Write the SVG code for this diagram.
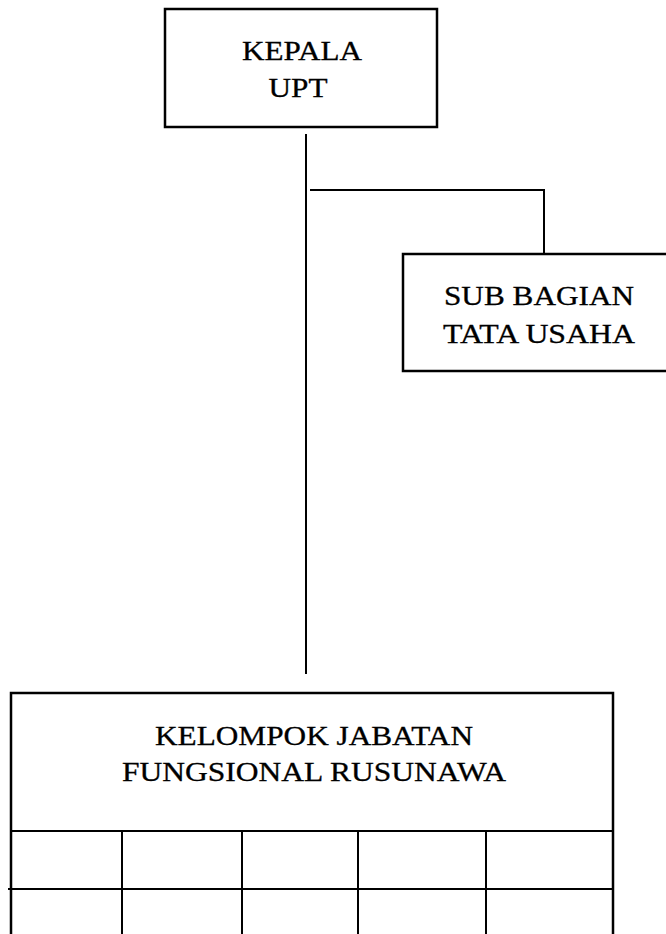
<svg xmlns="http://www.w3.org/2000/svg" width="666" height="934" viewBox="0 0 666 934">
<style>
.box{fill:#fff;stroke:#000;stroke-width:2.5}
.ln{fill:none;stroke:#000;stroke-width:2}
.t{font-family:"Liberation Serif","Times New Roman",serif;font-size:27px;fill:#000;stroke:#000;stroke-width:0.3;text-anchor:middle}
</style>
<rect width="666" height="934" fill="#fff"/>
<g id="connectors">
<line class="ln" x1="306" y1="134" x2="306" y2="674"/>
<polyline class="ln" points="310,190 544,190 544,253"/>
</g>
<g id="kepala">
<rect class="box" x="165" y="9" width="272" height="118"/>
<text class="t" x="302" y="60" textLength="120" lengthAdjust="spacingAndGlyphs">KEPALA</text>
<text class="t" x="298" y="97" textLength="59" lengthAdjust="spacingAndGlyphs">UPT</text>
</g>
<g id="subbagian">
<rect class="box" x="403" y="254" width="270" height="117"/>
<text class="t" x="539" y="305" textLength="190" lengthAdjust="spacingAndGlyphs">SUB BAGIAN</text>
<text class="t" x="539" y="343" textLength="192" lengthAdjust="spacingAndGlyphs">TATA USAHA</text>
</g>
<g id="kelompok">
<rect class="box" x="11" y="693" width="602" height="260"/>
<text class="t" x="314" y="745" textLength="318" lengthAdjust="spacingAndGlyphs">KELOMPOK JABATAN</text>
<text class="t" x="314" y="781" textLength="384" lengthAdjust="spacingAndGlyphs">FUNGSIONAL RUSUNAWA</text>
<line class="ln" x1="11" y1="831" x2="613" y2="831"/>
<line class="ln" x1="8" y1="889" x2="613" y2="889"/>
<line class="ln" x1="122" y1="831" x2="122" y2="934"/>
<line class="ln" x1="242" y1="831" x2="242" y2="934"/>
<line class="ln" x1="358" y1="831" x2="358" y2="934"/>
<line class="ln" x1="486" y1="831" x2="486" y2="934"/>
</g>
</svg>
